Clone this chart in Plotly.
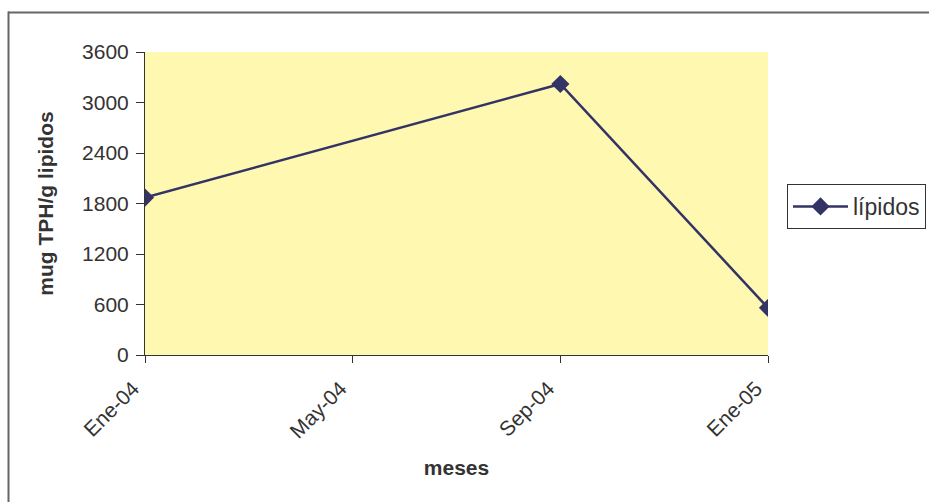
import plotly.graph_objects as go

# Monthly sampling categories and TPH concentration in lipids
months = ["Ene-04", "May-04", "Sep-04", "Ene-05"]
lipidos = [1870, None, 3220, 560]
y_ticks = [0, 600, 1200, 1800, 2400, 3000, 3600]

W, H = 929, 502
L, R, T, B = 145, 161, 52, 147
pw, ph = W - L - R, H - T - B

def px_x(p):
    return (p - L) / pw

def px_y(p):
    return (H - B - p) / ph

fig = go.Figure()
fig.add_trace(go.Scatter(
    x=months, y=lipidos, name="lípidos", mode="lines+markers",
    connectgaps=True,
    line=dict(color="#333366", width=2.5),
    marker=dict(symbol="diamond", size=14, color="#333366"),
))

FONT = "Liberation Sans, Arial"
axis_font = dict(family=FONT, size=21, color="#333333")
title_font = dict(family=FONT, size=21, color="#333333")

fig.update_layout(
    width=W, height=H,
    margin=dict(l=L, r=R, t=T, b=B, autoexpand=False),
    paper_bgcolor="white",
    plot_bgcolor="#FFF8B0",
    showlegend=True,
    legend=dict(
        x=px_x(787), y=px_y(184), xanchor="left", yanchor="top",
        bordercolor="#333333", borderwidth=1, bgcolor="white",
        font=dict(family=FONT, size=23, color="#333333"),
        itemwidth=55, tracegroupgap=0,
    ),
    xaxis=dict(
        type="category", categoryorder="array", categoryarray=months,
        range=[0, len(months) - 1],
        tickmode="array", tickvals=months, ticktext=months,
        tickangle=-45, ticks="outside", ticklen=7, tickcolor="#333333",
        ticklabelshift=-12, ticklabelstandoff=5,
        showline=True, linecolor="#333333", linewidth=1,
        showgrid=False, zeroline=False,
        tickfont=axis_font,
        title=dict(text="<b>meses</b>", font=title_font, standoff=18),
    ),
    yaxis=dict(
        range=[0, 3600], tickvals=y_ticks,
        ticks="outside", ticklen=8, tickcolor="#333333",
        ticklabelstandoff=3,
        showline=True, linecolor="#333333", linewidth=1,
        showgrid=False, zeroline=False,
        tickfont=axis_font,
        title=dict(text="<b>mug TPH/g lipidos</b>", font=title_font, standoff=22),
    ),
    shapes=[
        dict(type="line", xref="paper", yref="paper",
             x0=px_x(8), x1=px_x(935), y0=px_y(12.5), y1=px_y(12.5),
             line=dict(color="#666666", width=2)),
        dict(type="line", xref="paper", yref="paper",
             x0=px_x(8.5), x1=px_x(8.5), y0=px_y(11.5), y1=px_y(510),
             line=dict(color="#666666", width=2)),
    ],
)

fig.write_html("out.html")
